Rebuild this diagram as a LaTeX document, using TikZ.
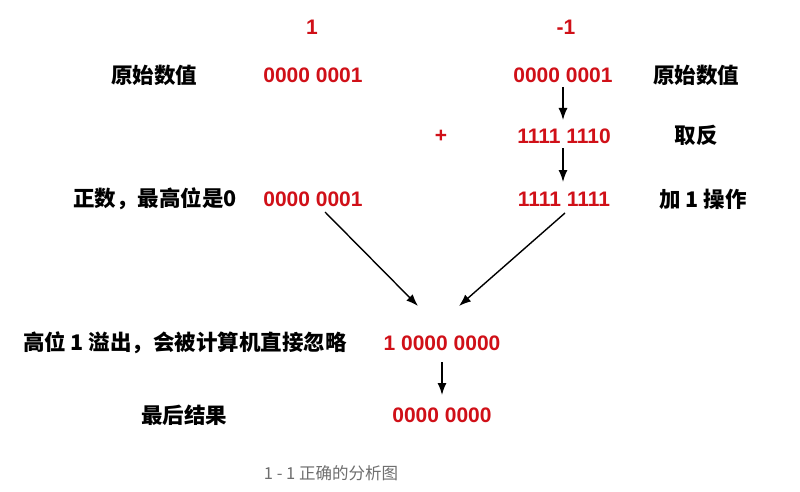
\documentclass[tikz,border=0pt]{standalone}
\usepackage{fontspec}
\setmainfont{Liberation Sans}
\newfontfamily\cjk{Noto Sans CJK SC}
\usetikzlibrary{arrows.meta}
\definecolor{bitred}{RGB}{208,16,24}
\definecolor{capgray}{RGB}{110,110,110}
\tikzset{
  bits/.style={text=bitred, font=\fontsize{21}{24}\selectfont\bfseries, inner sep=0pt},
  lbl/.style={font=\fontsize{21.5}{24}\selectfont\cjk\bfseries, inner sep=0pt},
  arr/.style={-{Latex[length=12pt,width=9pt]}, line width=1.4pt, black},
  captext/.style={font=\fontsize{16.5}{18}\selectfont\cjk, text=capgray, inner sep=0pt}
}
\begin{document}
\begin{tikzpicture}[x=1pt,y=-1pt]
\useasboundingbox (0,0) rectangle (800,492);
\fill[white] (0,0) rectangle (800,492);
\node[bits] (one) at (312,27) {1};
\node[bits] (mone) at (566,27) {-1};
\node[lbl] (l1) at (154,75) {原始数值};
\node[bits] (a1) at (313,75) {0000 0001};
\node[bits] (b1) at (563,75) {0000 0001};
\node[lbl] (r1) at (696,75) {原始数值};
\node[bits] (plus) at (441,136) {+};
\node[bits] (b2) at (564,136) {1111 1110};
\node[lbl] (r2) at (696,135) {取反};
\node[lbl] (l3) at (155,199) {正数，最高位是0};
\node[bits] (a3) at (313,199) {0000 0001};
\node[bits] (b3) at (564,199) {1111 1111};
\node[lbl] (r3) at (703,199) {加 1 操作};
\node[lbl] (l4) at (185,343) {高位 1 溢出，会被计算机直接忽略};
\node[bits] (c4) at (442,343) {1 0000 0000};
\node[lbl] (l5) at (184,415) {最后结果};
\node[bits] (c5) at (442,415) {0000 0000};
\node[captext] (caption) at (331,473) {1 - 1 正确的分析图};
\coordinate (s1) at (563,87);
\coordinate (e1) at (563,120);
\coordinate (s2) at (563,148);
\coordinate (e2) at (563,182);
\coordinate (s3) at (325,212);
\coordinate (e3) at (418,306);
\coordinate (s4) at (565,213);
\coordinate (e4) at (459,306);
\coordinate (s5) at (442,362);
\coordinate (e5) at (442,395);
\draw[arr] (s1) -- (e1);
\draw[arr] (s2) -- (e2);
\draw[arr] (s3) -- (e3);
\draw[arr] (s4) -- (e4);
\draw[arr] (s5) -- (e5);
\end{tikzpicture}
\end{document}
